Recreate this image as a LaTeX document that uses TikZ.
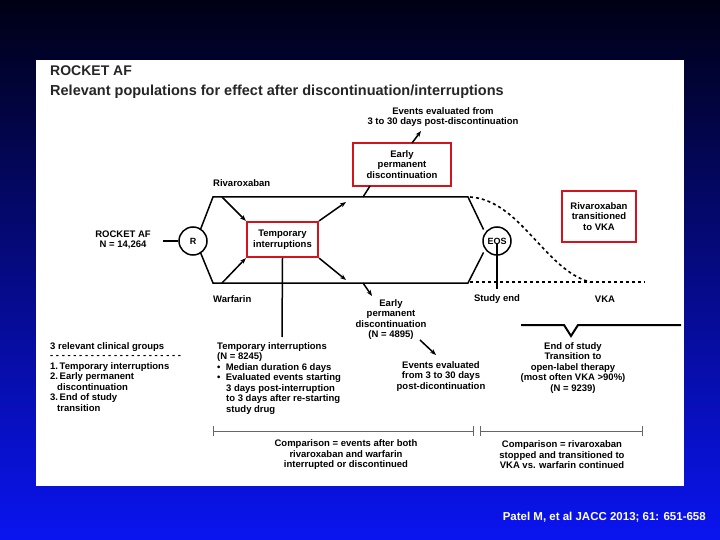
\documentclass[tikz,border=0pt]{standalone}
\usepackage{fontspec}
\setmainfont{Liberation Sans}
\usetikzlibrary{arrows.meta}
\definecolor{redbox}{RGB}{210,20,30}
\definecolor{bgtop}{RGB}{0,0,20}
\definecolor{bgbot}{RGB}{10,20,240}
\begin{document}
\begin{tikzpicture}[x=1pt,y=-1pt,
  lbl/.style={font=\fontsize{9.5}{10.5}\selectfont\bfseries, inner sep=0pt, align=center},
  lbll/.style={lbl, align=left, anchor=north west},
  rbox/.style={draw=redbox, line width=2.2pt, fill=white, font=\fontsize{9.5}{10.5}\selectfont\bfseries, align=center, inner sep=1pt},
  ln/.style={line width=1.5pt},
  arr/.style={line width=1.5pt, -{Stealth[length=6pt]}},
  circ/.style={circle, draw, line width=1.5pt, fill=white, minimum size=28pt, inner sep=0pt, font=\fontsize{9}{10}\selectfont\bfseries},
  thin/.style={line width=0.5pt, draw=black!60}]
\useasboundingbox (0,0) rectangle (720,540);
\shade[top color=bgtop, bottom color=bgbot] (0,0) rectangle (720,540);
\fill[white] (36,60) rectangle (684,486);
\node[anchor=base west, inner sep=0pt, font=\fontsize{14}{16}\selectfont\bfseries, text=black!85] (t1) at (50,76) {ROCKET AF};
\node[anchor=base west, inner sep=0pt, font=\fontsize{14.5}{16}\selectfont\bfseries, text=black!85] (t2) at (50,96) {Relevant populations for effect after discontinuation/interruptions};
% circles
\node[circ] (R) at (193,241) {R};
\node[circ] (EOS) at (497,241) {EOS};
\node[lbl, anchor=east] (rk) at (151,240) {ROCKET AF\\N = 14,264};
\coordinate (rkE) at (163,241);
\draw[ln] (rkE) -- (R.west);
% arms
\coordinate (ta) at (213,197); \coordinate (tb) at (468,197);
\coordinate (ba) at (213,283); \coordinate (bb) at (468,283);
\draw[ln] ([xshift=-3pt,yshift=1pt]R.north east) -- (ta) -- (tb) -- ([xshift=-3pt,yshift=1pt]EOS.north west);
\draw[ln] ([xshift=-3pt,yshift=-1pt]R.south east) -- (ba) -- (bb) -- ([xshift=-3pt,yshift=-1pt]EOS.south west);
\node[lbl, anchor=west] (riv) at (213,183) {Rivaroxaban};
\node[lbl, anchor=west] (war) at (213,299) {Warfarin};
% temporary interruptions
\node[rbox, minimum width=71pt, minimum height=35pt] (ti) at (282.5,239.5) {Temporary\\interruptions};
\coordinate (ti1) at (222,197); \coordinate (ti2) at (222,283);
\draw[arr] (ti1) -- (ti.north west);
\draw[arr] (ti2) -- (ti.south west);
\coordinate (up1) at (346,202); \coordinate (dn1) at (346,280);
\draw[arr] (ti.north east) -- (up1);
\draw[arr] (ti.south east) -- (dn1);
\coordinate (tiD) at (282,337);
\draw[ln] (ti.south) -- (tiD);
% early permanent discontinuation top
\node[rbox, minimum width=98pt, minimum height=43pt] (ep) at (402,164.5) {Early\\permanent\\discontinuation};
\coordinate (epL) at (363,197);
\coordinate (epLb) at (370,186);
\draw[ln] (epL) -- (epLb);
\node[lbl] (ev1) at (443,117) {Events evaluated from\\3 to 30 days post-discontinuation};
\coordinate (epT) at (412,143);
\draw[arr] (epT) -- (421,131);
% bottom early perm
\coordinate (epB) at (363,283);
\node[lbl, anchor=north] (ep2) at (391,299) {Early\\permanent\\discontinuation\\(N = 4895)};
\draw[arr] (epB) -- (372,296);
\node[lbl, anchor=north] (ev2) at (441,361) {Events evaluated\\from 3 to 30 days\\post-dicontinuation};
\draw[arr] (420,340) -- (436,355);
% EOS
\node[lbl] (se) at (497,299) {Study end};
\draw[ln] (EOS.center) ++(0,2) -- (497,289);
\node[lbl] (vka) at (605,299) {VKA};
\draw[line width=1.6pt, dash pattern=on 3pt off 3pt] (470,197) .. controls (520,200) and (545,270) .. (590,282);
\draw[line width=1.6pt, dash pattern=on 3pt off 3pt] (470,282) -- (645,282);
\node[rbox, minimum width=74pt, minimum height=51pt] (rt) at (599,216.5) {Rivaroxaban\\transitioned\\to VKA};
% bracket
\draw[line width=2pt] (521,325) -- (564,325) -- (571,336) -- (578,325) -- (681,325);
\node[lbl, anchor=north] (eos2) at (573,342) {End of study\\Transition to\\open-label therapy\\(most often VKA >90\%)\\(N = 9239)};
% left list
\node[lbll] (grp) at (50,342) {3 relevant clinical groups\\[-1pt]- - - - - - - - - - - - - - - - - - - - - - - \\1.\,Temporary interruptions\\2.\,Early permanent\\\hspace*{7pt}discontinuation\\3.\,End of study\\\hspace*{7pt}transition};
\node[lbll] (tit) at (217,342) {Temporary interruptions\\(N = 8245)\\\textbullet\ \ Median duration 6 days\\\textbullet\ \ Evaluated events starting\\\hspace*{9pt}3 days post-interruption\\\hspace*{9pt}to 3 days after re-starting\\\hspace*{9pt}study drug};
% comparison lines
\draw[thin] (213,431) -- (473,431); \draw[thin] (213,426) -- (213,436); \draw[thin] (473,426) -- (473,436);
\draw[thin] (480,431) -- (642,431); \draw[thin] (480,426) -- (480,436); \draw[thin] (642,426) -- (642,436);
\node[lbl] (c1) at (346,455) {Comparison = events after both\\rivaroxaban and warfarin\\interrupted or discontinued};
\node[lbl] (c2) at (562,455) {Comparison = rivaroxaban\\stopped and transitioned to\\VKA vs. warfarin continued};
\node[anchor=east, inner sep=0pt, text=white, font=\fontsize{11.5}{13}\selectfont\bfseries] (cit) at (706,517) {Patel M, et al JACC 2013; 61: 651-658};
\end{tikzpicture}
\end{document}
